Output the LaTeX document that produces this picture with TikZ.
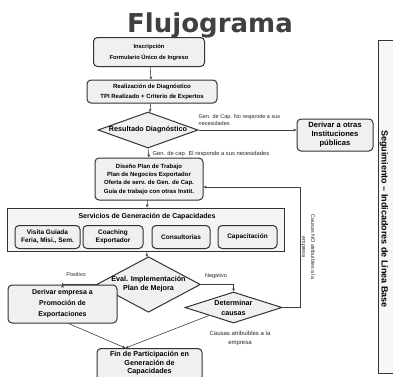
\documentclass[tikz,border=0pt]{standalone}
\usepackage{fontspec}
\setmainfont{Liberation Sans}
\newfontfamily\titlefont{DejaVu Sans}
\usetikzlibrary{shapes.geometric,arrows.meta,calc}
\newcommand{\fs}[2]{\fontsize{#1}{#2}\selectfont}
\begin{document}
\begin{tikzpicture}[x=1pt,y=-1pt,
  box/.style={draw=black!80, line width=1pt, rounded corners=4pt, fill=black!6, align=center,
    font=\fs{6}{8}\bfseries, inner sep=1pt},
  dia/.style={diamond, draw=black!80, line width=1pt, fill=black!6, align=center, inner sep=0pt,
    font=\fs{7.2}{9}\bfseries},
  conn/.style={draw=black!75, line width=0.6pt, -{Stealth[length=3.2pt,width=2.8pt]}},
  lbl/.style={font=\fs{5.5}{7}, text=black!85, inner sep=0.5pt},
  sub/.style={box, minimum width=#1, minimum height=23pt, font=\fs{6.5}{8}\bfseries}
]
\useasboundingbox (0,0) rectangle (393,376);
\clip (0,0) rectangle (393,376);
\fill[white] (0,0) rectangle (393,376);

\node[font=\titlefont\bfseries\fs{26}{28}, text=black!75, anchor=base] (title) at (210,32) {Flujograma};

\node[box, minimum width=111pt, minimum height=29pt, font=\fs{5.8}{11}\bfseries] (ins) at (149,52)
  {Inscripción\\Formulario Único de Ingreso};
\node[box, minimum width=130pt, minimum height=23pt, font=\fs{6}{10}\bfseries] (real) at (152,91.5)
  {Realización de Diagnóstico\\TPI Realizado + Criterio de Expertos};
\node[dia, aspect=2.78, minimum width=100pt, minimum height=36pt] (res) at (148,130) {Resultado Diagnóstico};
\node[box, minimum width=76pt, minimum height=32pt, font=\fs{7.6}{9}\bfseries] (der) at (335,135)
  {Derivar a otras\\Instituciones\\públicas};
\node[box, minimum width=108pt, minimum height=42pt, font=\fs{6}{8.3}\bfseries] (dis) at (149,179)
  {Diseño Plan de Trabajo\\Plan de Negocios Exportador\\Oferta de serv. de Gen. de Cap.\\Guía de trabajo con otras Instit.};

\node[draw=black!80, line width=1pt, fill=black!4, minimum width=277pt, minimum height=43pt] (serv) at (145.5,229.5) {};
\node[font=\fs{7}{8}\bfseries, inner sep=0pt] (servt) at (147,217) {Servicios de Generación de Capacidades};
\node[sub=65pt] (vis) at (47.5,237) {Visita Guiada\\Feria, Misi., Sem.};
\node[sub=60pt] (coa) at (113,237) {Coaching\\Exportador};
\node[sub=58pt] (con) at (181,237) {Consultorías};
\node[sub=59pt] (cap) at (247.5,237) {Capacitación};

\node[dia, aspect=1.87, minimum width=103pt, minimum height=55pt] (eval) at (148.5,284.5) {Eval. Implementación\\Plan de Mejora};
\node[box, minimum width=109pt, minimum height=38pt, font=\fs{7}{11}\bfseries] (dem) at (62.5,304)
  {Derivar empresa a\\Promoción de\\Exportaciones};
\node[dia, aspect=3.13, minimum width=97pt, minimum height=31pt, font=\fs{7.2}{10}\bfseries] (det) at (233.5,307.5) {Determinar\\causas};
\node[box, minimum width=105pt, minimum height=32pt, anchor=north] (fin) at (149.5,348) {};
\node[font=\fs{7.2}{8.6}\bfseries, align=center, anchor=north, inner sep=0pt] (fint) at (149.5,351)
  {Fin de Participación en\\Generación de\\Capacidades};

\node[draw=black!80, line width=0.9pt, fill=black!3, minimum width=22pt, minimum height=333pt] (seg) at (389,206.5) {};
\node[rotate=-90, font=\fs{9}{10}\bfseries, inner sep=0pt] (segt) at (384,219)
  {Seguimiento – Indicadores de Línea Base};

% connectors
\draw[conn] (ins) -- (real);
\draw[conn] (real) -- (res);
\draw[conn] (res.east) -- (res.east -| der.west);
\node[lbl, anchor=south west, align=left] (l1) at (198,126) {Gen. de Cap. No responde a sus\\necesidades};
\draw[conn] (res.south) -- (dis.north);
\node[lbl, anchor=west, font=\fs{5.8}{7}] (l2) at (152,154) {Gen. de cap. El responde a sus necesidades};
\draw[conn] (dis) -- (serv);
\draw[conn] (serv) -- (eval);
\draw[conn] (eval.west) -| (dem.north);
\node[lbl] (lpos) at (76,275) {Positivo};
\draw[conn] (eval.east) -| (det.north);
\node[lbl] (lneg) at (216,276) {Negativo};
\coordinate (finin) at ($(fin.north)+(-24,0)$);
\draw[conn] ($(dem.south)+(6,0)$) -- (finin);
\draw[conn] (det.south west) -- (finin);
\node[lbl, align=center, font=\fs{6}{9}] (lca) at (240,338) {Causas atribuibles a la\\empresa};
\coordinate (rbend) at (300,187);
\draw[conn] (det.east) -| (rbend) -- (rbend -| dis.east);
\node[lbl, rotate=-90, align=center, font=\fs{5.4}{9}] (lno) at (308,247) {Causas NO atribuibles a la\\empresa};
\end{tikzpicture}
\end{document}
